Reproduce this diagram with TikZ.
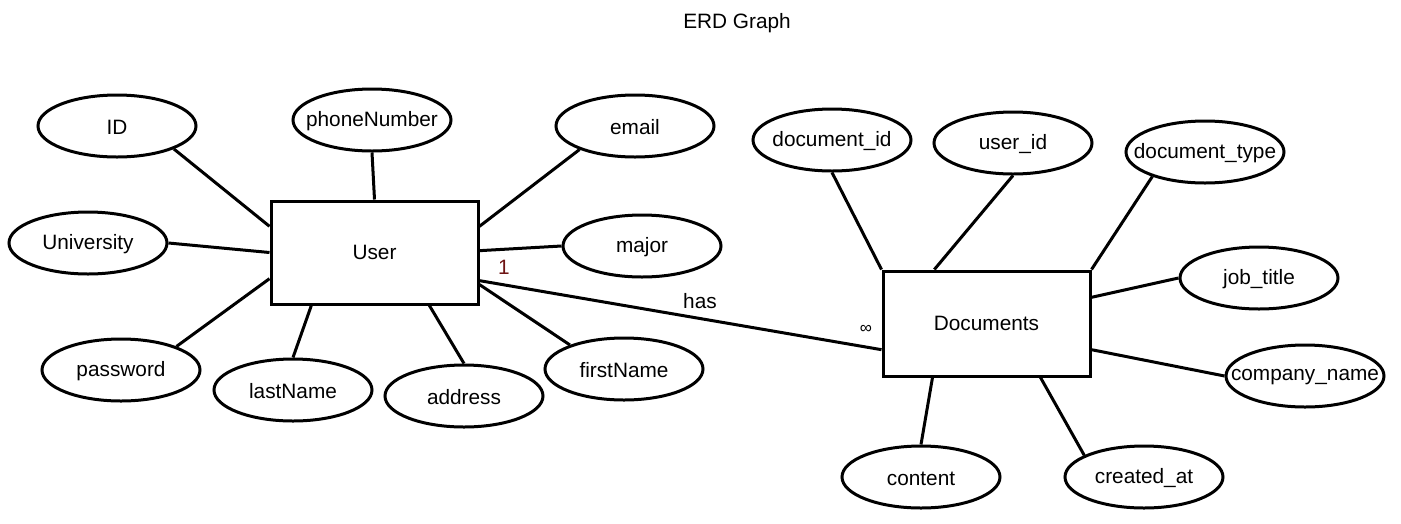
\documentclass[tikz,border=0pt]{standalone}
\usepackage{fontspec}
\setmainfont{Liberation Sans}
\usetikzlibrary{shapes.geometric}
\definecolor{cardred}{RGB}{110,20,20}
\begin{document}
\begin{tikzpicture}[x=1pt,y=-1pt,line width=3pt,font=\fontsize{20.8}{25}\selectfont,
  entity/.style={draw,rectangle,minimum width=207pt,minimum height=103pt,inner sep=0pt},
  attr/.style={draw,ellipse,minimum width=158pt,minimum height=62pt,inner sep=0pt,label={[yshift=-1.5pt]center:#1}}]
\useasboundingbox (0,0) rectangle (1401,523);
\node (title) at (737,23) {ERD Graph};

\node[entity] (user) at (374.5,252.5) {User};
\node[entity,minimum height=105pt] (documents) at (986.5,323.5) {Documents};

\node[attr=ID] (id) at (117,126) {};
\node[attr=phoneNumber] (phone) at (372,120) {};
\node[attr=email] (email) at (635,126) {};
\node[attr=University] (university) at (88,243) {};
\node[attr=major] (major) at (642,246) {};
\node[attr=password] (password) at (121,370) {};
\node[attr=lastName] (lastname) at (293,390) {};
\node[attr=address] (address) at (464,396) {};
\node[attr=firstName] (firstname) at (624,369) {};

\node[attr=document\_id] (docid) at (832,140) {};
\node[attr=user\_id] (userid) at (1013,143) {};
\node[attr=document\_type] (doctype) at (1205,152) {};
\node[attr=job\_title] (jobtitle) at (1259,278) {};
\node[attr=company\_name] (company) at (1305,376) {};
\node[attr=content] (content) at (921,477) {};
\node[attr=created\_at] (created) at (1144,477) {};

\draw (id.338) -- (user.166);
\draw (phone.270) -- (user.90);
\draw (university.0) -- (user.180);
\draw (password.23) -- (user.194);
\draw (lastname.90) -- (user.220);
\draw (address.90) -- (user.316);
\draw (email.203) -- (user.14);
\draw (major.180) -- (user.1);
\draw (firstname.156) -- (user.343);

\draw (user.345) -- (documents.194);
\node[text=cardred] (one) at (504,267) {1};
\node (has) at (700,301) {has};
\node[font=\fontsize{17}{20}\selectfont] (many) at (866,329) {∞};

\draw (docid.270) -- (documents.north west);
\draw (userid.270) -- (documents.134);
\draw (doctype.205) -- (documents.north east);
\draw (jobtitle.180) -- (documents.14);
\draw (company.180) -- (documents.346);
\draw (content.90) -- (documents.225);
\draw (created.160) -- (documents.315);

\end{tikzpicture}
\end{document}
